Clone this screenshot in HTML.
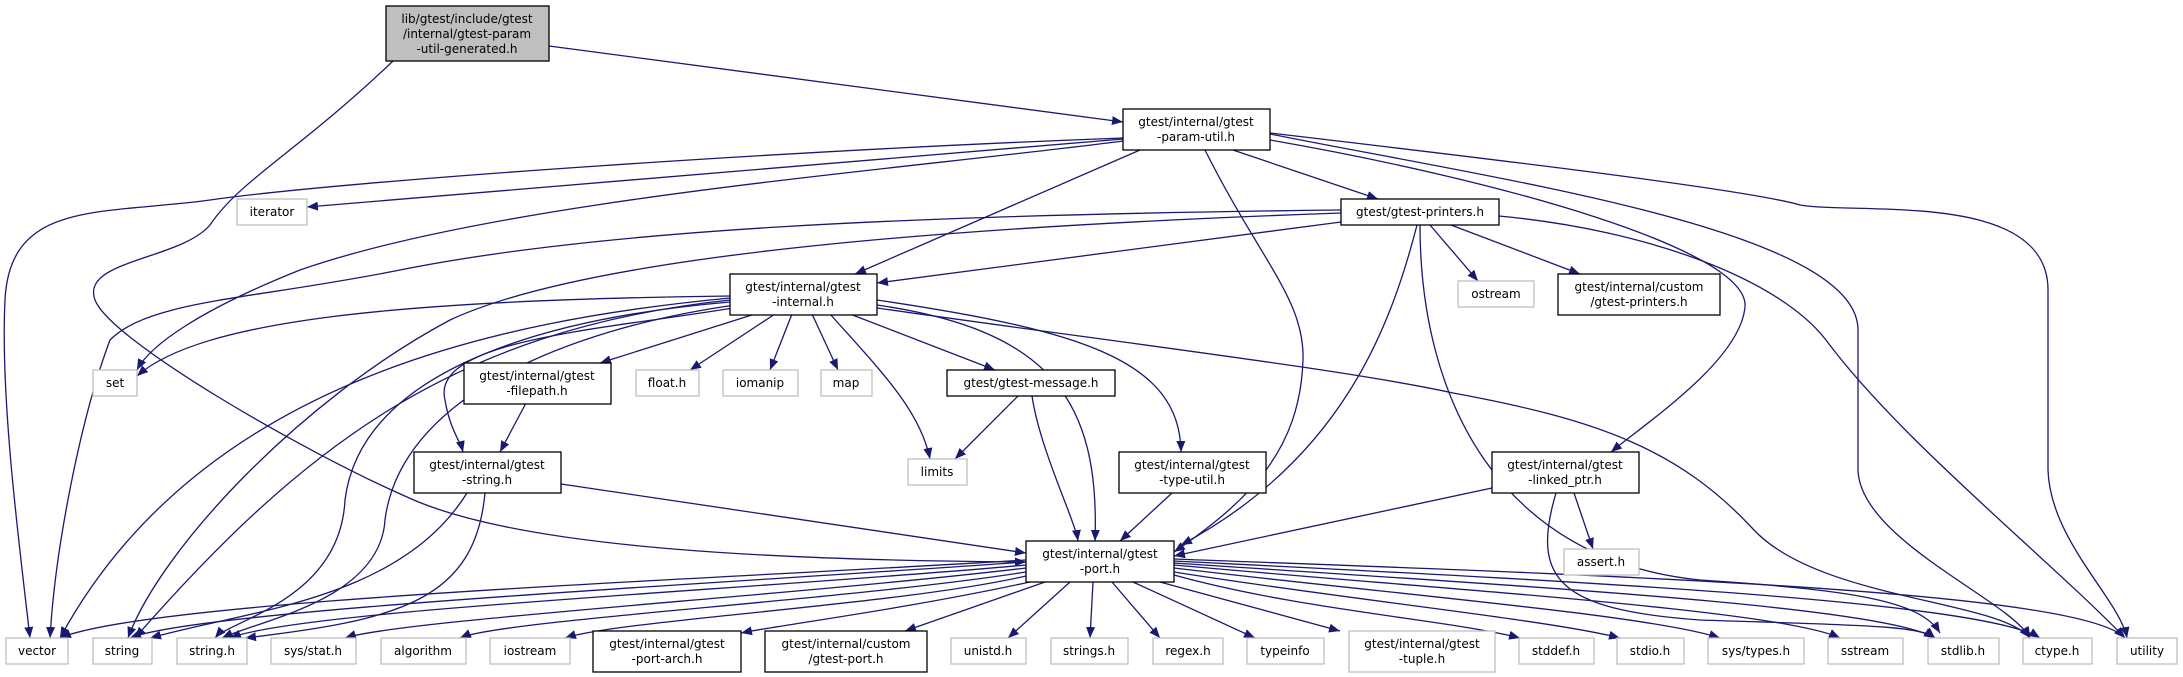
<!DOCTYPE html>
<html><head><meta charset="utf-8"><style>
html,body{margin:0;padding:0;background:#fff;}
svg{display:block}
text{font-family:"DejaVu Sans","Liberation Sans",sans-serif;font-size:12px;fill:#000;text-anchor:middle}
.e{fill:none;stroke:#191970;stroke-width:1.3;marker-end:url(#a)}
.n{fill:#fff;stroke:#000;stroke-width:1.3}
.g{fill:#fff;stroke:#bfbfbf;stroke-width:1.3}
</style></head><body>
<svg width="2183" height="677" viewBox="0 0 2183 677" xmlns="http://www.w3.org/2000/svg">
<defs><marker id="a" markerUnits="userSpaceOnUse" markerWidth="12" markerHeight="10" refX="11" refY="4.5" orient="auto"><path d="M0,0 L11,4.5 L0,9 z" fill="#191970"/></marker></defs>

<!-- edges -->
<path class="e" d="M549,46 L1123,122"/>
<path class="e" d="M393,61 C300,150 240,180 210,225 C180,260 80,260 95,300 C110,340 300,450 407,497 C500,540 700,560 1026,562"/>
<path class="e" d="M1123,138 C800,150 350,180 210,200 C100,215 10,200 5,300 C0,400 20,550 30,638"/>
<path class="e" d="M1123,139 L307,207"/>
<path class="e" d="M1123,141 C900,170 500,200 300,270 C200,310 150,345 137,370"/>
<path class="e" d="M1140,150 L855,274"/>
<path class="e" d="M1205,150 C1260,260 1305,300 1303,360 C1300,450 1250,500 1174,552"/>
<path class="e" d="M1233,150 L1378,199"/>
<path class="e" d="M1270,140 C1500,180 1750,250 1745,307 C1740,360 1650,420 1611,452"/>
<path class="e" d="M1270,134 C1500,180 1858,230 1858,330 L1858,470 C1860,540 2010,600 2030,638"/>
<path class="e" d="M1270,133 C1500,160 1750,190 1800,205 C1860,215 2048,190 2048,290 L2048,470 C2050,540 2120,600 2127,638"/>
<path class="e" d="M1341,210 C900,215 600,230 400,270 C250,300 150,300 110,340 C80,420 55,550 50,638"/>
<path class="e" d="M1341,213 C1000,225 600,250 450,320 C300,400 160,550 128,638"/>
<path class="e" d="M1341,222 L877,283"/>
<path class="e" d="M1430,225 L1478,281"/>
<path class="e" d="M1451,225 L1580,274"/>
<path class="e" d="M1417,225 C1390,330 1340,460 1181,545"/>
<path class="e" d="M1420,225 C1420,400 1500,560 1700,580 C1850,590 1920,600 1940,633"/>
<path class="e" d="M1499,216 C1650,230 1780,280 1826,340 C1900,440 2050,560 2125,638"/>
<path class="e" d="M730,296 C400,300 200,320 137,376"/>
<path class="e" d="M730,298 C500,320 200,380 60,638"/>
<path class="e" d="M730,300 C450,330 300,450 135,638"/>
<path class="e" d="M730,302 C520,320 360,380 345,500 C340,600 230,620 215,638"/>
<path class="e" d="M735,305 C560,330 400,400 385,520 C380,600 260,620 222,638"/>
<path class="e" d="M755,314 L600,363"/>
<path class="e" d="M733,308 C600,330 430,340 445,400 C450,430 460,440 463,452"/>
<path class="e" d="M775,314 L690,370"/>
<path class="e" d="M792,314 L770,370"/>
<path class="e" d="M812,314 L838,370"/>
<path class="e" d="M830,314 C880,370 920,410 930,459"/>
<path class="e" d="M850,314 L995,370"/>
<path class="e" d="M877,305 C1050,330 1100,400 1095,541"/>
<path class="e" d="M877,300 C1080,330 1180,360 1181,452"/>
<path class="e" d="M877,308 C1100,340 1350,370 1453,393 C1600,420 1680,450 1754,530 C1820,600 2000,600 2030,638"/>
<path class="e" d="M1018,396 L955,459"/>
<path class="e" d="M1032,396 C1040,450 1075,520 1078,541"/>
<path class="e" d="M526,403 L500,452"/>
<path class="e" d="M561,484 L1026,553"/>
<path class="e" d="M467,493 C400,600 250,610 150,638"/>
<path class="e" d="M485,493 C475,600 400,620 245,638"/>
<path class="e" d="M1172,493 L1120,541"/>
<path class="e" d="M1492,488 L1174,556"/>
<path class="e" d="M1574,493 L1593,549"/>
<path class="e" d="M1556,493 C1530,580 1560,610 1700,620 C1850,625 1920,625 1935,638"/>
<!-- port out -->
<path class="e" d="M1026,560 C700,580 150,600 60,638"/>
<path class="e" d="M1026,562 C700,585 200,610 130,638"/>
<path class="e" d="M1026,565 C750,590 300,610 230,638"/>
<path class="e" d="M1026,568 C800,595 400,620 345,638"/>
<path class="e" d="M1026,572 C850,600 500,620 460,638"/>
<path class="e" d="M1026,576 C900,605 620,620 565,638"/>
<path class="e" d="M1030,582 C900,610 780,625 741,633"/>
<path class="e" d="M1045,582 L905,631"/>
<path class="e" d="M1070,582 L1008,638"/>
<path class="e" d="M1093,582 L1090,638"/>
<path class="e" d="M1112,582 L1160,638"/>
<path class="e" d="M1133,582 L1255,638"/>
<path class="e" d="M1160,582 L1340,631"/>
<path class="e" d="M1174,575 C1300,610 1450,620 1520,638"/>
<path class="e" d="M1174,572 C1350,600 1550,620 1620,638"/>
<path class="e" d="M1174,568 C1400,595 1650,615 1720,638"/>
<path class="e" d="M1174,565 C1450,590 1780,610 1840,638"/>
<path class="e" d="M1174,563 C1500,585 1880,605 1935,638"/>
<path class="e" d="M1174,561 C1550,580 1980,600 2040,638"/>
<path class="e" d="M1174,559 C1600,575 2080,590 2125,638"/>

<!-- nodes -->
<rect x="386" y="6" width="163" height="55" fill="#bfbfbf" stroke="#000" stroke-width="1.3"/>
<text x="467" y="23">lib/gtest/include/gtest</text><text x="467" y="38">/internal/gtest-param</text><text x="467" y="53">-util-generated.h</text>

<rect class="n" x="1123" y="109" width="147" height="41"/><text x="1196" y="126">gtest/internal/gtest</text><text x="1196" y="141">-param-util.h</text>
<rect class="g" x="237" y="199" width="70" height="26"/><text x="272" y="216">iterator</text>
<rect class="n" x="1341" y="199" width="158" height="26"/><text x="1420" y="216">gtest/gtest-printers.h</text>
<rect class="g" x="1458" y="281" width="76" height="26"/><text x="1496" y="298">ostream</text>
<rect class="n" x="1558" y="274" width="162" height="41"/><text x="1639" y="291">gtest/internal/custom</text><text x="1639" y="306">/gtest-printers.h</text>
<rect class="n" x="730" y="274" width="147" height="41"/><text x="803" y="291">gtest/internal/gtest</text><text x="803" y="306">-internal.h</text>
<rect class="g" x="93" y="370" width="44" height="26"/><text x="115" y="387">set</text>
<rect class="n" x="464" y="363" width="147" height="41"/><text x="537" y="380">gtest/internal/gtest</text><text x="537" y="395">-filepath.h</text>
<rect class="g" x="636" y="370" width="63" height="26"/><text x="667" y="387">float.h</text>
<rect class="g" x="723" y="370" width="75" height="26"/><text x="760" y="387">iomanip</text>
<rect class="g" x="821" y="370" width="51" height="26"/><text x="846" y="387">map</text>
<rect class="n" x="947" y="370" width="168" height="26"/><text x="1031" y="387">gtest/gtest-message.h</text>
<rect class="g" x="908" y="459" width="59" height="26"/><text x="937" y="476">limits</text>
<rect class="n" x="414" y="452" width="147" height="41"/><text x="487" y="469">gtest/internal/gtest</text><text x="487" y="484">-string.h</text>
<rect class="n" x="1119" y="452" width="147" height="41"/><text x="1192" y="469">gtest/internal/gtest</text><text x="1192" y="484">-type-util.h</text>
<rect class="n" x="1492" y="452" width="147" height="41"/><text x="1565" y="469">gtest/internal/gtest</text><text x="1565" y="484">-linked_ptr.h</text>
<rect class="g" x="1564" y="549" width="75" height="26"/><text x="1601" y="566">assert.h</text>
<rect class="n" x="1026" y="541" width="148" height="41"/><text x="1100" y="558">gtest/internal/gtest</text><text x="1100" y="573">-port.h</text>

<rect class="g" x="6" y="638" width="62" height="26"/><text x="37" y="655">vector</text>
<rect class="g" x="93" y="638" width="59" height="26"/><text x="122" y="655">string</text>
<rect class="g" x="177" y="638" width="70" height="26"/><text x="212" y="655">string.h</text>
<rect class="g" x="271" y="638" width="85" height="26"/><text x="313" y="655">sys/stat.h</text>
<rect class="g" x="381" y="638" width="85" height="26"/><text x="423" y="655">algorithm</text>
<rect class="g" x="490" y="638" width="80" height="26"/><text x="530" y="655">iostream</text>
<rect class="n" x="593" y="631" width="148" height="41"/><text x="667" y="648">gtest/internal/gtest</text><text x="667" y="663">-port-arch.h</text>
<rect class="n" x="765" y="631" width="162" height="41"/><text x="846" y="648">gtest/internal/custom</text><text x="846" y="663">/gtest-port.h</text>
<rect class="g" x="951" y="638" width="75" height="26"/><text x="988" y="655">unistd.h</text>
<rect class="g" x="1051" y="638" width="77" height="26"/><text x="1089" y="655">strings.h</text>
<rect class="g" x="1153" y="638" width="70" height="26"/><text x="1188" y="655">regex.h</text>
<rect class="g" x="1247" y="638" width="77" height="26"/><text x="1285" y="655">typeinfo</text>
<rect class="g" x="1349" y="631" width="146" height="41"/><text x="1422" y="648">gtest/internal/gtest</text><text x="1422" y="663">-tuple.h</text>
<rect class="g" x="1519" y="638" width="75" height="26"/><text x="1556" y="655">stddef.h</text>
<rect class="g" x="1617" y="638" width="67" height="26"/><text x="1650" y="655">stdio.h</text>
<rect class="g" x="1708" y="638" width="96" height="26"/><text x="1756" y="655">sys/types.h</text>
<rect class="g" x="1828" y="638" width="75" height="26"/><text x="1865" y="655">sstream</text>
<rect class="g" x="1928" y="638" width="71" height="26"/><text x="1963" y="655">stdlib.h</text>
<rect class="g" x="2023" y="638" width="69" height="26"/><text x="2057" y="655">ctype.h</text>
<rect class="g" x="2117" y="638" width="60" height="26"/><text x="2147" y="655">utility</text>
</svg>
</body></html>
